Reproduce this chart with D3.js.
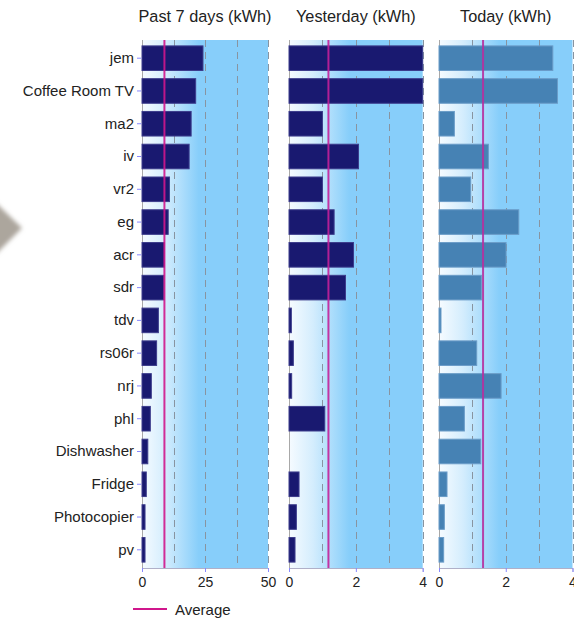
<!DOCTYPE html>
<html><head><meta charset="utf-8">
<script src="https://cdn.jsdelivr.net/npm/d3@7"></script>
<style>
body{margin:0;background:#fff;}
svg{display:block;font-family:"Liberation Sans",Arial,sans-serif;}
</style></head>
<body>
<svg id="chart" width="574" height="619"></svg>
<script>
const categories = ["jem","Coffee Room TV","ma2","iv","vr2","eg","acr","sdr","tdv","rs06r","nrj","phl","Dishwasher","Fridge","Photocopier","pv"];
const past7Days = [24.2,21.3,19.5,18.7,10.9,10.4,8.9,8.7,6.5,5.8,3.7,3.3,2.3,1.7,1.2,1.2];
const yesterday = [4.0,4.0,1.0,2.08,1.0,1.35,1.93,1.69,0.07,0.13,0.08,1.07,0,0.3,0.22,0.18];
const today = [3.41,3.55,0.46,1.48,0.95,2.39,2.01,1.27,0.06,1.13,1.86,0.76,1.25,0.24,0.16,0.14];
const averages = [8.9,1.18,1.32];
const panelTitles = ["Past 7 days (kWh)","Yesterday (kWh)","Today (kWh)"];
const xMaxes = [50,4,4];
const tickValues = [[0,25,50],[0,2,4],[0,2,4]];
const gridValues = [[12.5,25,37.5,50],[1,2,3,4],[1,2,3,4]];
const legendLabel = "Average";

const series = [past7Days, yesterday, today];
const barColors = ["#191970","#191970","#4682b4"];
const barStrokes = ["#3c3c8c","#3c3c8c","#6a9cc8"];
const avgColors = ["#d0168c","#c4209a","#b6309e"];
const panelX = [[142,268],[289,422.7],[439,572.5]];
const plotTop = 40, plotBottom = 568;

const svg = d3.select("#chart");
const defs = svg.append("defs");
const grad = defs.append("linearGradient").attr("id","bg").attr("x1","0").attr("x2","1").attr("y1","0").attr("y2","0");
grad.append("stop").attr("offset","0").attr("stop-color","#f6fbff");
grad.append("stop").attr("offset","0.18").attr("stop-color","#d4edfd");
grad.append("stop").attr("offset","0.45").attr("stop-color","#87cefa");
grad.append("stop").attr("offset","1").attr("stop-color","#87cefa");
const blur = defs.append("filter").attr("id","blur").attr("x","-50%").attr("y","-50%").attr("width","200%").attr("height","200%");
blur.append("feGaussianBlur").attr("stdDeviation","2");

// decorative blurred shape at left edge
svg.append("polygon").attr("points","-30,178 22,228 -30,280").attr("fill","#aca69d").attr("filter","url(#blur)");

const y = d3.scaleBand().domain(categories).range([plotTop,plotBottom]).paddingInner(0.25).paddingOuter(0.18);

series.forEach((vals,i)=>{
  const x = d3.scaleLinear().domain([0,xMaxes[i]]).range(panelX[i]).clamp(true);
  const g = svg.append("g");
  g.append("rect").attr("x",x(0)).attr("y",plotTop).attr("width",x(xMaxes[i])-x(0)).attr("height",plotBottom-plotTop).attr("fill","url(#bg)");
  g.selectAll("line.grid").data(gridValues[i]).join("line").attr("class","grid")
    .attr("x1",d=>Math.round(x(d))+0.5).attr("x2",d=>Math.round(x(d))+0.5).attr("y1",plotTop).attr("y2",plotBottom)
    .attr("stroke","#8894a0").attr("stroke-width",1).attr("stroke-dasharray","7,5");
  g.append("line").attr("x1",x(0)+0.5).attr("x2",x(0)+0.5).attr("y1",plotTop).attr("y2",plotBottom).attr("stroke","#a8a8a8");
  g.selectAll("rect.bar").data(categories).join("rect").attr("class","bar")
    .attr("x",x(0)).attr("y",d=>y(d)).attr("height",y.bandwidth())
    .attr("width",(d,j)=>Math.max(0,x(vals[j])-x(0)))
    .attr("fill",barColors[i]).attr("stroke",barStrokes[i]).attr("stroke-width",(d,j)=>vals[j]>0?1:0);
  g.append("line").attr("x1",x(averages[i])).attr("x2",x(averages[i])).attr("y1",plotTop).attr("y2",plotBottom)
    .attr("stroke",avgColors[i]).attr("stroke-width",2).attr("stroke-opacity",0.9);
  const ax = g.append("g").attr("transform",`translate(0,${plotBottom})`)
    .call(d3.axisBottom(x).tickValues(tickValues[i]).tickSize(4).tickPadding(5).tickFormat(d3.format("d")));
  ax.select(".domain").attr("stroke","#b0b0c8");
  ax.selectAll(".tick line").attr("stroke","#8888ff");
  ax.selectAll(".tick text").attr("font-size","14px").attr("fill","#222").attr("font-family","'Liberation Sans',Arial,sans-serif");
  svg.append("text").attr("x",(panelX[i][0]+panelX[i][1])/2).attr("y",22).attr("text-anchor","middle")
    .attr("font-size","16.3px").attr("fill","#222").text(panelTitles[i]);
});

const yAxis = svg.append("g").attr("transform",`translate(141,0)`)
  .call(d3.axisLeft(y).tickSize(4).tickPadding(3));
yAxis.select(".domain").remove();
yAxis.selectAll(".tick line").attr("stroke","#8888ff");
yAxis.selectAll(".tick text").attr("font-size","15px").attr("fill","#222").attr("font-family","'Liberation Sans',Arial,sans-serif");

const lg = svg.append("g");
lg.append("line").attr("x1",133).attr("x2",167).attr("y1",609).attr("y2",609).attr("stroke","#d0168c").attr("stroke-width",2);
lg.append("text").attr("x",175).attr("y",614.5).attr("font-size","15px").attr("fill","#222").text(legendLabel);
</script>
</body></html>
